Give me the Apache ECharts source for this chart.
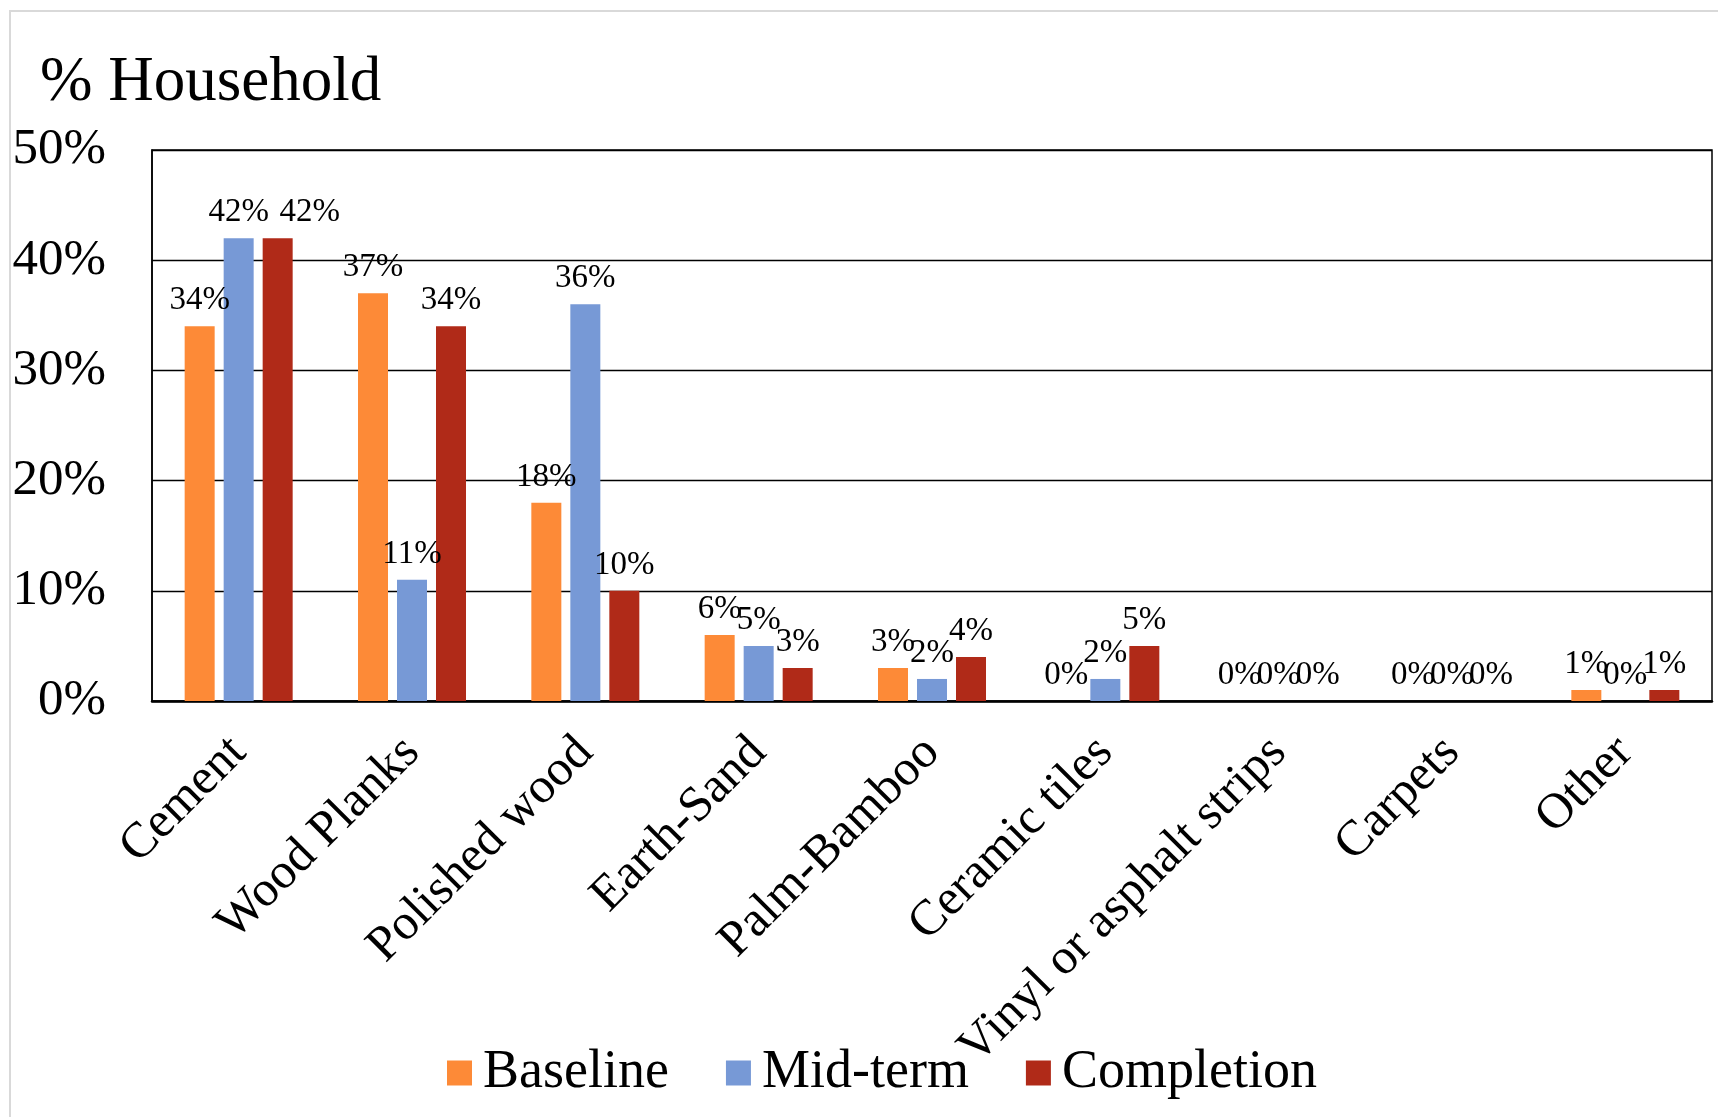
<!DOCTYPE html>
<html>
<head>
<meta charset="utf-8">
<script src="https://cdn.jsdelivr.net/npm/echarts@6/dist/echarts.min.js"></script>
<style>
  html, body { margin: 0; padding: 0; background: #fff; }
  #chart { width: 1718px; height: 1117px; }
</style>
</head>
<body>
<div id="chart"></div>
<script>
// Floor material by household share, three survey rounds
const categories = ['Cement', 'Wood Planks', 'Polished wood', 'Earth-Sand', 'Palm-Bamboo',
  'Ceramic tiles', 'Vinyl or asphalt strips', 'Carpets', 'Other'];
const baseline   = [34, 37, 18, 6, 3, 0, 0, 0, 1];
const midterm    = [42, 11, 36, 5, 2, 2, 0, 0, 0];
const completion = [42, 34, 10, 3, 4, 5, 0, 0, 1];
const seriesNames = ['Baseline', 'Mid-term', 'Completion'];
const colors = ['#FD8A37', '#7799D6', '#B02A18'];

const FONT = 'Liberation Serif';

// labelShift: optional {index: [dx, dy]} to nudge a crowded value label
function barSeries(name, values, color, labelShift) {
  const data = values.map((v, i) => {
    if (labelShift && labelShift[i]) {
      return { value: v, label: { offset: labelShift[i] } };
    }
    return v;
  });
  return {
    name: name,
    type: 'bar',
    data: data,
    barWidth: 30,
    barGap: '30%',
    itemStyle: { color: color },
    label: {
      show: true,
      position: 'top',
      distance: 9,
      formatter: '{c}%',
      color: '#000',
      fontFamily: FONT,
      fontSize: 33
    }
  };
}

const chart = echarts.init(document.getElementById('chart'));
chart.setOption({
  animation: false,
  backgroundColor: '#fff',
  textStyle: { fontFamily: FONT },
  title: {
    text: '% Household',
    left: 35,
    top: 47,
    textStyle: { fontFamily: FONT, fontSize: 63, fontWeight: 'normal', color: '#000' }
  },
  graphic: [{
    type: 'rect',
    shape: { x: 10, y: 11, width: 1720, height: 1120 },
    style: { fill: 'none', stroke: '#d9d9d9', lineWidth: 2 },
    silent: true
  }],
  legend: {
    left: 442,
    top: 1041,
    icon: 'rect',
    itemWidth: 25,
    itemHeight: 25,
    itemGap: 57,
    data: seriesNames,
    textStyle: { fontFamily: FONT, fontSize: 54, color: '#000', padding: [0, 0, 0, 6] }
  },
  grid: {
    left: 152,
    right: 6,
    top: 150,
    bottom: 416,
    show: true,
    borderColor: '#000',
    borderWidth: 1.5,
    containLabel: false
  },
  xAxis: {
    type: 'category',
    data: categories,
    axisLine: { lineStyle: { color: '#000', width: 2.5 } },
    axisTick: { show: false },
    axisLabel: {
      interval: 0,
      rotate: 45,
      margin: 44,
      fontFamily: FONT,
      fontSize: 50,
      color: '#000'
    }
  },
  yAxis: {
    type: 'value',
    min: 0,
    max: 50,
    interval: 10,
    axisLine: { show: true, lineStyle: { color: '#000', width: 1.5 } },
    axisTick: { show: false },
    splitLine: { lineStyle: { color: '#000', width: 1.4 } },
    axisLabel: {
      formatter: '{value}%',
      margin: 46,
      fontFamily: FONT,
      fontSize: 51,
      color: '#000'
    }
  },
  series: [
    barSeries(seriesNames[0], baseline, colors[0]),
    barSeries(seriesNames[1], midterm, colors[1]),
    barSeries(seriesNames[2], completion, colors[2], { 0: [32, 0] })
  ]
});
</script>
</body>
</html>
